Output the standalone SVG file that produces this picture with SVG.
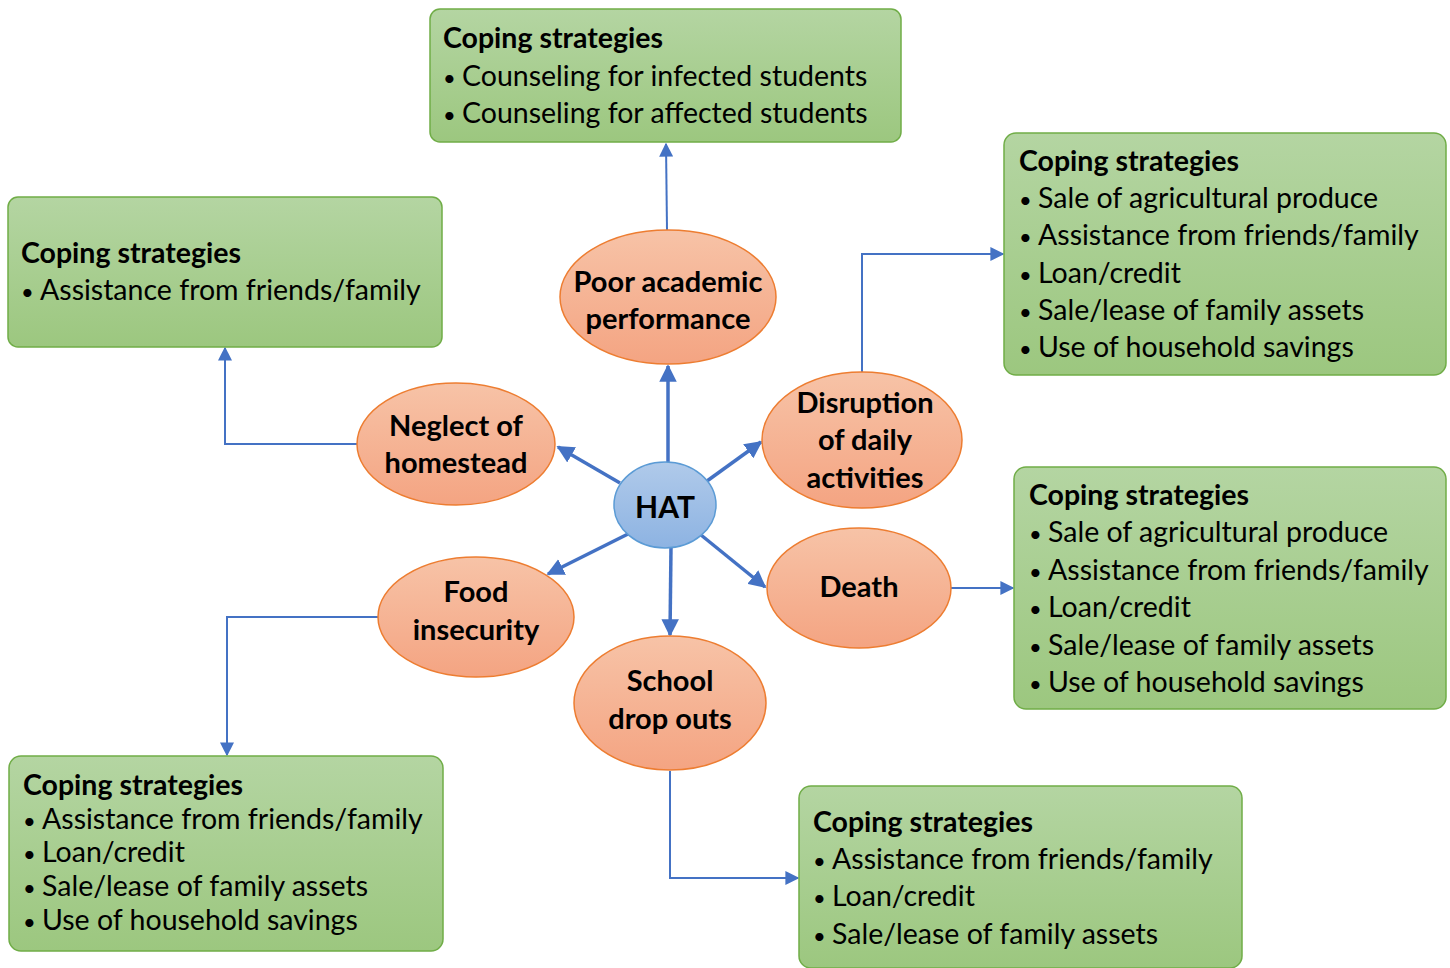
<svg xmlns="http://www.w3.org/2000/svg" width="1450" height="968" viewBox="0 0 1450 968">
<defs>
<linearGradient id="gG" x1="0" y1="0" x2="0" y2="1"><stop offset="0" stop-color="#B4D5A2"/><stop offset="1" stop-color="#9CC77F"/></linearGradient>
<linearGradient id="gO" x1="0" y1="0" x2="0" y2="1"><stop offset="0" stop-color="#F7C3A7"/><stop offset="1" stop-color="#F4A482"/></linearGradient>
<linearGradient id="gB" x1="0" y1="0" x2="0" y2="1"><stop offset="0" stop-color="#B0CAEA"/><stop offset="1" stop-color="#8DB3E2"/></linearGradient>
<marker id="ah" viewBox="0 0 10 10" refX="9" refY="5" markerWidth="5" markerHeight="5" orient="auto" markerUnits="strokeWidth"><path d="M0,0 L10,5 L0,10 z" fill="#4472C4"/></marker>
<marker id="ah2" viewBox="0 0 10 10" refX="9" refY="5" markerWidth="7" markerHeight="7" orient="auto" markerUnits="strokeWidth"><path d="M0,0 L10,5 L0,10 z" fill="#4472C4"/></marker>
</defs>
<style>
.box{fill:url(#gG);stroke:#70AD47;stroke-width:1.5}
.ell{fill:url(#gO);stroke:#ED7D31;stroke-width:1.5}
.hat{fill:url(#gB);stroke:#5B9BD5;stroke-width:1.5}
text{font-family:Lato,"Open Sans","Liberation Sans",sans-serif;fill:#000}
.t{font-weight:bold;font-size:28.5px}
.b{font-size:28.5px}
.bl{font-size:22px}
.e{font-weight:bold;font-size:29px;text-anchor:middle}
.c1{stroke:#4472C4;stroke-width:3.5;fill:none;marker-end:url(#ah)}
.c2{stroke:#4472C4;stroke-width:2;fill:none;marker-end:url(#ah2)}
</style>
<g id="connectors">
<line class="c1" x1="668" y1="462" x2="668" y2="366"/>
<line class="c1" x1="620" y1="483" x2="558" y2="447"/>
<line class="c1" x1="707" y1="481" x2="761" y2="442"/>
<line class="c1" x1="628" y1="534" x2="548" y2="574"/>
<line class="c1" x1="671" y1="547" x2="670" y2="635"/>
<line class="c1" x1="701" y1="535" x2="765" y2="587"/>
<polyline class="c2" points="667,230 666,144"/>
<polyline class="c2" points="357,444 225,444 225,348"/>
<polyline class="c2" points="862,372 862,254 1003,254"/>
<polyline class="c2" points="951,588 1013,588"/>
<polyline class="c2" points="378,617 227,617 227,755"/>
<polyline class="c2" points="670,771 670,878 798,878"/>
</g>
<g id="box-top">
<rect class="box" x="430" y="9" width="471" height="133" rx="10"/>
<text class="t" x="443" y="48">Coping strategies</text>
<text class="b" y="86"><tspan class="bl" x="443">•</tspan><tspan x="462">Counseling for infected students</tspan></text>
<text class="b" y="123"><tspan class="bl" x="443">•</tspan><tspan x="462">Counseling for affected students</tspan></text>
</g>
<g id="box-left-top">
<rect class="box" x="8" y="197" width="434" height="150" rx="10"/>
<text class="t" x="21" y="263">Coping strategies</text>
<text class="b" y="300"><tspan class="bl" x="21">•</tspan><tspan x="40">Assistance from friends/family</tspan></text>
</g>
<g id="box-right-top">
<rect class="box" x="1004" y="133" width="442" height="242" rx="12"/>
<text class="t" x="1019" y="171">Coping strategies</text>
<text class="b" y="208"><tspan class="bl" x="1019">•</tspan><tspan x="1038">Sale of agricultural produce</tspan></text>
<text class="b" y="245"><tspan class="bl" x="1019">•</tspan><tspan x="1038">Assistance from friends/family</tspan></text>
<text class="b" y="283"><tspan class="bl" x="1019">•</tspan><tspan x="1038">Loan/credit</tspan></text>
<text class="b" y="320"><tspan class="bl" x="1019">•</tspan><tspan x="1038">Sale/lease of family assets</tspan></text>
<text class="b" y="357"><tspan class="bl" x="1019">•</tspan><tspan x="1038">Use of household savings</tspan></text>
</g>
<g id="box-right-mid">
<rect class="box" x="1014" y="467" width="432" height="242" rx="12"/>
<text class="t" x="1029" y="505">Coping strategies</text>
<text class="b" y="542"><tspan class="bl" x="1029">•</tspan><tspan x="1048">Sale of agricultural produce</tspan></text>
<text class="b" y="580"><tspan class="bl" x="1029">•</tspan><tspan x="1048">Assistance from friends/family</tspan></text>
<text class="b" y="617"><tspan class="bl" x="1029">•</tspan><tspan x="1048">Loan/credit</tspan></text>
<text class="b" y="655"><tspan class="bl" x="1029">•</tspan><tspan x="1048">Sale/lease of family assets</tspan></text>
<text class="b" y="692"><tspan class="bl" x="1029">•</tspan><tspan x="1048">Use of household savings</tspan></text>
</g>
<g id="box-left-bottom">
<rect class="box" x="9" y="756" width="434" height="195" rx="12"/>
<text class="t" x="23" y="795">Coping strategies</text>
<text class="b" y="829"><tspan class="bl" x="23">•</tspan><tspan x="42">Assistance from friends/family</tspan></text>
<text class="b" y="862"><tspan class="bl" x="23">•</tspan><tspan x="42">Loan/credit</tspan></text>
<text class="b" y="896"><tspan class="bl" x="23">•</tspan><tspan x="42">Sale/lease of family assets</tspan></text>
<text class="b" y="930"><tspan class="bl" x="23">•</tspan><tspan x="42">Use of household savings</tspan></text>
</g>
<g id="box-right-bottom">
<rect class="box" x="799" y="786" width="443" height="182" rx="12"/>
<text class="t" x="813" y="832">Coping strategies</text>
<text class="b" y="869"><tspan class="bl" x="813">•</tspan><tspan x="832">Assistance from friends/family</tspan></text>
<text class="b" y="906"><tspan class="bl" x="813">•</tspan><tspan x="832">Loan/credit</tspan></text>
<text class="b" y="944"><tspan class="bl" x="813">•</tspan><tspan x="832">Sale/lease of family assets</tspan></text>
</g>
<g id="poor-academic">
<ellipse class="ell" cx="668" cy="297" rx="108" ry="67"/>
<text class="e" x="668" y="292">Poor academic</text>
<text class="e" x="668" y="329">performance</text>
</g>
<g id="neglect">
<ellipse class="ell" cx="456" cy="444" rx="99" ry="61"/>
<text class="e" x="456" y="436">Neglect of</text>
<text class="e" x="456" y="473">homestead</text>
</g>
<g id="disruption">
<ellipse class="ell" cx="862" cy="440" rx="100" ry="68"/>
<text class="e" x="865" y="413">Disruption</text>
<text class="e" x="865" y="450">of daily</text>
<text class="e" x="865" y="488">activities</text>
</g>
<g id="death">
<ellipse class="ell" cx="859" cy="588" rx="92" ry="60"/>
<text class="e" x="859" y="597">Death</text>
</g>
<g id="food">
<ellipse class="ell" cx="476" cy="617" rx="98" ry="60"/>
<text class="e" x="476" y="602">Food</text>
<text class="e" x="476" y="640">insecurity</text>
</g>
<g id="school">
<ellipse class="ell" cx="670" cy="703" rx="96" ry="67"/>
<text class="e" x="670" y="691">School</text>
<text class="e" x="670" y="729">drop outs</text>
</g>
<g id="hat">
<ellipse class="hat" cx="665" cy="505" rx="51" ry="43"/>
<text class="e" x="665" y="518" style="font-size:30px">HAT</text>
</g>
</svg>
